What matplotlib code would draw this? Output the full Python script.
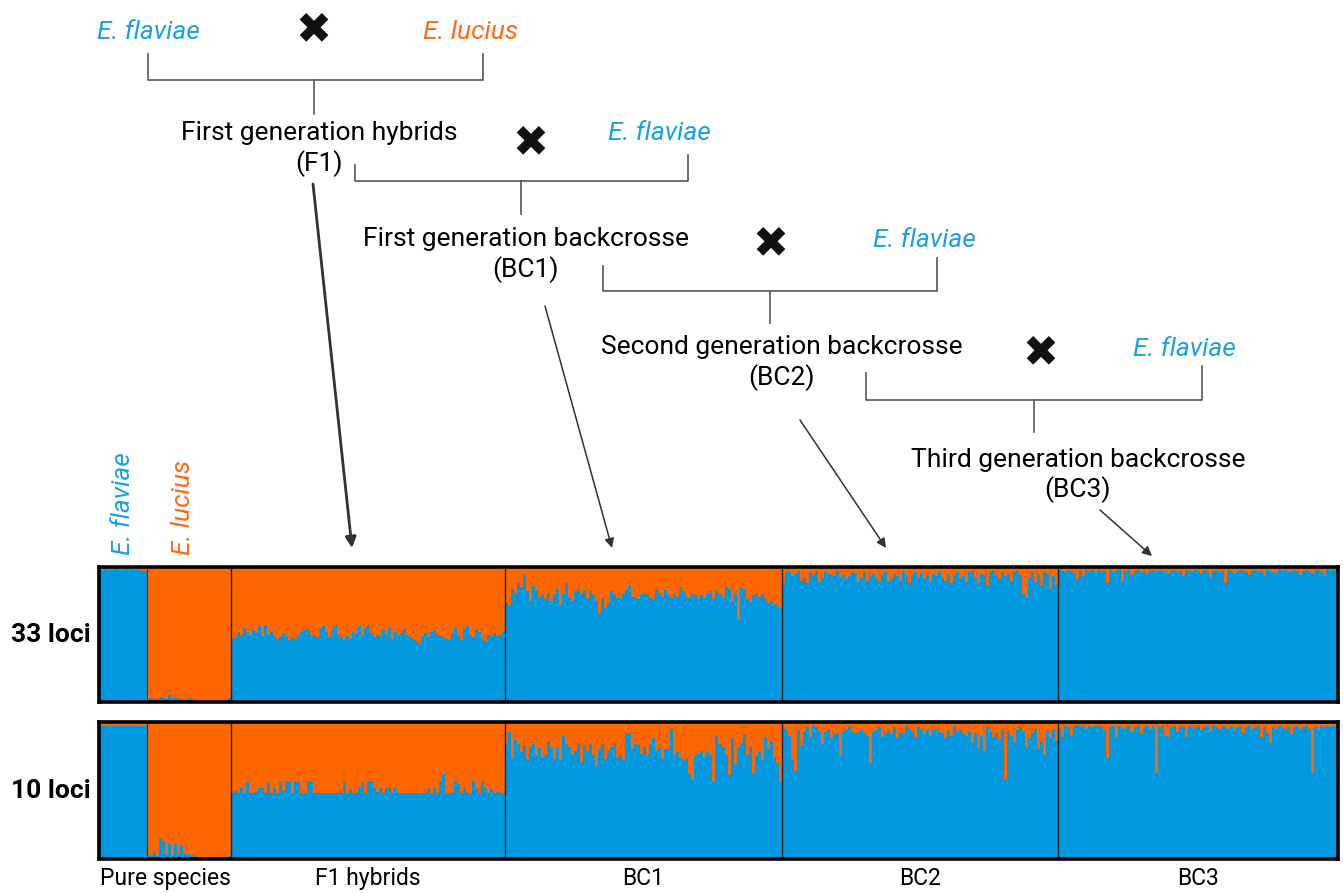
import numpy as np
import matplotlib
matplotlib.use("Agg")
import matplotlib.pyplot as plt

plt.rcParams['font.family'] = ['Roboto', 'DejaVu Sans']

BLUE = '#0099E0'
ORANGE = '#FF6600'
TXT_BLUE = '#1AA0E4'
TXT_ORANGE = '#FF6A13'
LINE = '#555555'

group_labels = ['Pure species', 'F1 hybrids', 'BC1', 'BC2', 'BC3']
panel_labels = ['33 loci', '10 loci']

# E. flaviae ancestry (%) per individual, 33 loci
l33_flaviae = [98, 98, 99, 98, 98, 99, 98, 98, 98, 99, 98, 98, 98, 98, 97, 97]
l33_lucius = [2, 3, 2, 2, 4, 3, 2, 5, 3, 4, 3, 2, 2, 2, 3, 2, 1, 1, 1, 1,
              1, 1, 1, 1, 1, 1, 1, 3]
l33_f1 = [47, 48, 52, 50, 55, 52, 49, 53, 51, 56,
          49, 57, 50, 52, 49, 47, 48, 51, 49, 46,
          48, 47, 50, 52, 53, 54, 49, 50, 48, 55,
          56, 52, 48, 53, 57, 50, 48, 46, 49, 47,
          52, 51, 56, 49, 55, 57, 51, 48, 50, 49,
          53, 50, 55, 47, 52, 49, 51, 54, 50, 48,
          47, 45, 44, 49, 51, 48, 52, 53, 50, 49,
          48, 47, 46, 51, 55, 49, 46, 54, 56, 50,
          48, 54, 52, 47, 45, 50, 49, 51, 49, 50,
          52]
l33_bc1 = [74, 72, 84, 80, 88, 85, 95, 82, 75, 86,
           83, 78, 80, 76, 81, 74, 79, 84, 72, 80,
           88, 78, 75, 82, 84, 80, 83, 76, 82, 79,
           75, 66, 77, 70, 73, 82, 79, 77, 76, 80,
           83, 86, 78, 77, 76, 80, 81, 79, 77, 76,
           84, 81, 78, 83, 79, 77, 80, 78, 85, 82,
           78, 77, 80, 79, 76, 79, 77, 81, 82, 76,
           83, 80, 77, 86, 84, 75, 80, 61, 85, 83,
           76, 74, 79, 81, 78, 80, 76, 73, 75, 72,
           71, 70]
l33_bc2 = [88, 96, 97, 93, 95, 97, 90, 92, 88, 96,
           94, 97, 89, 92, 96, 95, 94, 93, 97, 92,
           94, 91, 93, 96, 95, 89, 92, 96, 90, 93,
           95, 92, 90, 94, 96, 89, 91, 95, 93, 90,
           96, 93, 88, 94, 96, 92, 95, 91, 94, 89,
           95, 93, 96, 92, 90, 95, 88, 94, 96, 91,
           93, 89, 96, 97, 92, 88, 95, 94, 87, 96,
           97, 94, 91, 96, 93, 95, 90, 96, 97, 94,
           80, 77, 92, 96, 89, 95, 87, 96, 95, 84,
           93, 87]
l33_bc3 = [98, 97, 96, 98, 97, 95, 91, 97, 93, 98,
           97, 98, 96, 98, 97, 97, 88, 98, 96, 97,
           98, 89, 97, 98, 94, 97, 98, 96, 97, 95,
           98, 97, 96, 98, 97, 96, 95, 97, 98, 96,
           97, 93, 98, 97, 96, 98, 97, 95, 98, 97,
           92, 97, 98, 96, 97, 88, 98, 97, 95, 96,
           98, 97, 96, 94, 97, 98, 96, 97, 93, 98,
           97, 96, 95, 98, 97, 98, 96, 97, 98, 97,
           94, 97, 98, 96, 95, 97, 98, 96, 93, 98,
           97, 98, 97]

# E. flaviae ancestry (%) per individual, 10 loci
l10_flaviae = [97, 97, 97, 97, 97, 97, 97, 97, 97, 97, 97, 97, 97, 97, 97, 97]
l10_lucius = [2, 3, 6, 2, 15, 13, 3, 11, 2, 11, 3, 10, 4, 4, 3, 3, 1, 1, 1, 1,
              1, 1, 1, 1, 1, 1, 1, 2]
l10_f1 = [48, 50, 48, 52, 48, 56, 48, 48, 50, 52,
          52, 48, 56, 48, 52, 48, 56, 50, 57, 57,
          48, 57, 57, 48, 48, 57, 57, 48, 48, 48,
          48, 48, 48, 48, 48, 48, 48, 57, 48, 51,
          48, 48, 52, 56, 48, 57, 57, 52, 49, 52,
          48, 52, 51, 48, 52, 48, 48, 48, 48, 48,
          48, 48, 48, 48, 48, 52, 48, 52, 48, 57,
          62, 48, 48, 48, 57, 55, 48, 52, 48, 48,
          57, 52, 48, 57, 52, 48, 51, 48, 49, 48,
          48]
l10_bc1 = [85, 93, 74, 87, 84, 78, 83, 73, 82, 84,
           75, 81, 74, 76, 86, 81, 73, 82, 72, 90,
           84, 82, 76, 79, 85, 71, 83, 79, 84, 76,
           68, 80, 84, 73, 79, 82, 85, 74, 76, 72,
           91, 92, 80, 84, 83, 77, 82, 75, 84, 88,
           79, 81, 73, 80, 80, 95, 76, 78, 74, 72,
           73, 62, 58, 75, 77, 79, 74, 78, 76, 56,
           90, 84, 82, 76, 61, 88, 69, 81, 85, 91,
           76, 82, 63, 75, 78, 72, 89, 80, 86, 74,
           70, 56]
l10_bc2 = [96, 94, 90, 72, 64, 94, 83, 93, 96, 89,
           97, 96, 93, 84, 93, 95, 88, 92, 91, 75,
           93, 94, 96, 93, 92, 93, 94, 92, 90, 70,
           93, 94, 96, 89, 92, 95, 91, 96, 88, 93,
           92, 97, 95, 93, 89, 96, 95, 91, 94, 90,
           94, 95, 93, 92, 88, 94, 90, 97, 93, 95,
           91, 90, 93, 85, 92, 81, 90, 79, 96, 93,
           89, 92, 87, 95, 58, 93, 90, 85, 94, 96,
           93, 82, 88, 92, 95, 80, 86, 76, 93, 88,
           95, 86]
l10_bc3 = [95, 89, 97, 96, 90, 97, 98, 96, 97, 95,
           97, 96, 97, 98, 96, 94, 74, 96, 97, 88,
           97, 95, 96, 97, 93, 96, 97, 92, 96, 97,
           95, 97, 63, 96, 97, 90, 89, 96, 97, 93,
           97, 96, 89, 97, 95, 96, 97, 94, 96, 97,
           93, 97, 96, 94, 97, 96, 95, 97, 94, 96,
           97, 92, 96, 97, 94, 96, 97, 89, 96, 92,
           85, 96, 94, 97, 96, 95, 97, 91, 96, 97,
           94, 96, 97, 95, 63, 96, 94, 97, 96, 97,
           96, 97, 96]

panels = [
    [l33_flaviae, l33_lucius, l33_f1, l33_bc1, l33_bc2, l33_bc3],
    [l10_flaviae, l10_lucius, l10_f1, l10_bc1, l10_bc2, l10_bc3],
]

W, H = 1343, 893
fig = plt.figure(figsize=(W / 100, H / 100), dpi=100)

# overlay in pixel coordinates for the crossing scheme
ov = fig.add_axes([0, 0, 1, 1])
ov.set_xlim(0, W)
ov.set_ylim(H, 0)
ov.axis('off')

ax_top = fig.add_axes([99 / W, 1 - 702 / H, 1239 / W, 135 / H])
ax_bot = fig.add_axes([99 / W, 1 - 859 / H, 1239 / W, 137 / H])


def draw_panel(ax, parts, label):
    blue = np.concatenate([np.asarray(p, float) for p in parts]) / 100
    n = len(blue)
    ax.set_facecolor(ORANGE)
    ax.stairs(blue, np.arange(n + 1), fill=True, color=BLUE, baseline=0, lw=0)
    bounds = np.cumsum([len(p) for p in parts])[:-1]
    for b in bounds[1:]:
        ax.axvline(b, color='#222222', lw=1.0)
    ax.axvline(bounds[0], color='#1d3b55', lw=0.8)
    ax.set_xlim(0, n)
    ax.set_ylim(0, 1)
    ax.set_yticks([])
    for s in ax.spines.values():
        s.set_linewidth(2.6)
        s.set_color('black')
    ax.text(-0.007, 0.5, label, transform=ax.transAxes, ha='right', va='center',
            fontsize=19, fontweight='bold')
    return bounds, n


b, n = draw_panel(ax_top, panels[0], panel_labels[0])
ax_top.set_xticks([])
draw_panel(ax_bot, panels[1], panel_labels[1])

edges = np.concatenate([[0], b, [n]])
mids = [edges[2] / 2] + [(edges[i] + edges[i + 1]) / 2 for i in range(2, 6)]
ax_bot.set_xticks(mids)
ax_bot.set_xticklabels(group_labels, fontsize=16.5)
ax_bot.tick_params(axis='x', length=0, pad=6)

# species names over the pure columns
ax_top.text(edges[1] / 2, 1.09, 'E. flaviae', transform=ax_top.get_xaxis_transform(),
            rotation=90, ha='center', va='bottom', color=TXT_BLUE,
            fontsize=19, style='italic')
ax_top.text((edges[1] + edges[2]) / 2 - 2, 1.09, 'E. lucius',
            transform=ax_top.get_xaxis_transform(), rotation=90, ha='center',
            va='bottom', color=TXT_ORANGE, fontsize=19, style='italic')

# crossing scheme
tkw = dict(ha='center', va='center', fontsize=19)
ikw = dict(ha='center', va='center', fontsize=19, style='italic')
xkw = dict(ha='center', va='center', fontsize=31, fontweight='bold',
           family='DejaVu Sans', color='#111111')


def bracket(xl, xr, yl, yr, yh, xs, ys):
    ov.plot([xl, xl, xr, xr], [yl, yh, yh, yr], color=LINE, lw=1.2)
    ov.plot([xs, xs], [yh, ys], color=LINE, lw=1.2)


ov.text(148, 32, 'E. flaviae', color=TXT_BLUE, **ikw)
ov.text(313, 30, '\u2716', **xkw)
ov.text(471, 32, 'E. lucius', color=TXT_ORANGE, **ikw)
bracket(148, 483, 54, 54, 80, 314, 114)

ov.text(319, 133, 'First generation hybrids', **tkw)
ov.text(319, 164, '(F1)', **tkw)
ov.text(530, 143, '\u2716', **xkw)
ov.text(659, 133, 'E. flaviae', color=TXT_BLUE, **ikw)
bracket(355, 688, 165, 155, 181, 521, 214)

ov.text(526, 239, 'First generation backcrosse', **tkw)
ov.text(526, 270, '(BC1)', **tkw)
ov.text(770, 244, '\u2716', **xkw)
ov.text(924, 240, 'E. flaviae', color=TXT_BLUE, **ikw)
bracket(603, 937, 266, 258, 291, 770, 323)

ov.text(782, 347, 'Second generation backcrosse', **tkw)
ov.text(782, 378, '(BC2)', **tkw)
ov.text(1040, 353, '\u2716', **xkw)
ov.text(1184, 349, 'E. flaviae', color=TXT_BLUE, **ikw)
bracket(866, 1202, 373, 366, 400, 1034, 432)

ov.text(1078, 460, 'Third generation backcrosse', **tkw)
ov.text(1078, 490, '(BC3)', **tkw)

akw = dict(arrowstyle='-|>', color='#333333', shrinkA=0, shrinkB=0)
ov.annotate('', xy=(352, 548), xytext=(313, 184),
            arrowprops=dict(lw=2.0, mutation_scale=16, **akw))
ov.annotate('', xy=(612, 548), xytext=(545, 306),
            arrowprops=dict(lw=1.1, mutation_scale=14, **akw))
ov.annotate('', xy=(886, 548), xytext=(800, 420),
            arrowprops=dict(lw=1.1, mutation_scale=14, **akw))
ov.annotate('', xy=(1152, 556), xytext=(1100, 510),
            arrowprops=dict(lw=1.1, mutation_scale=14, **akw))

fig.savefig('out.png', dpi=100, facecolor='white')
